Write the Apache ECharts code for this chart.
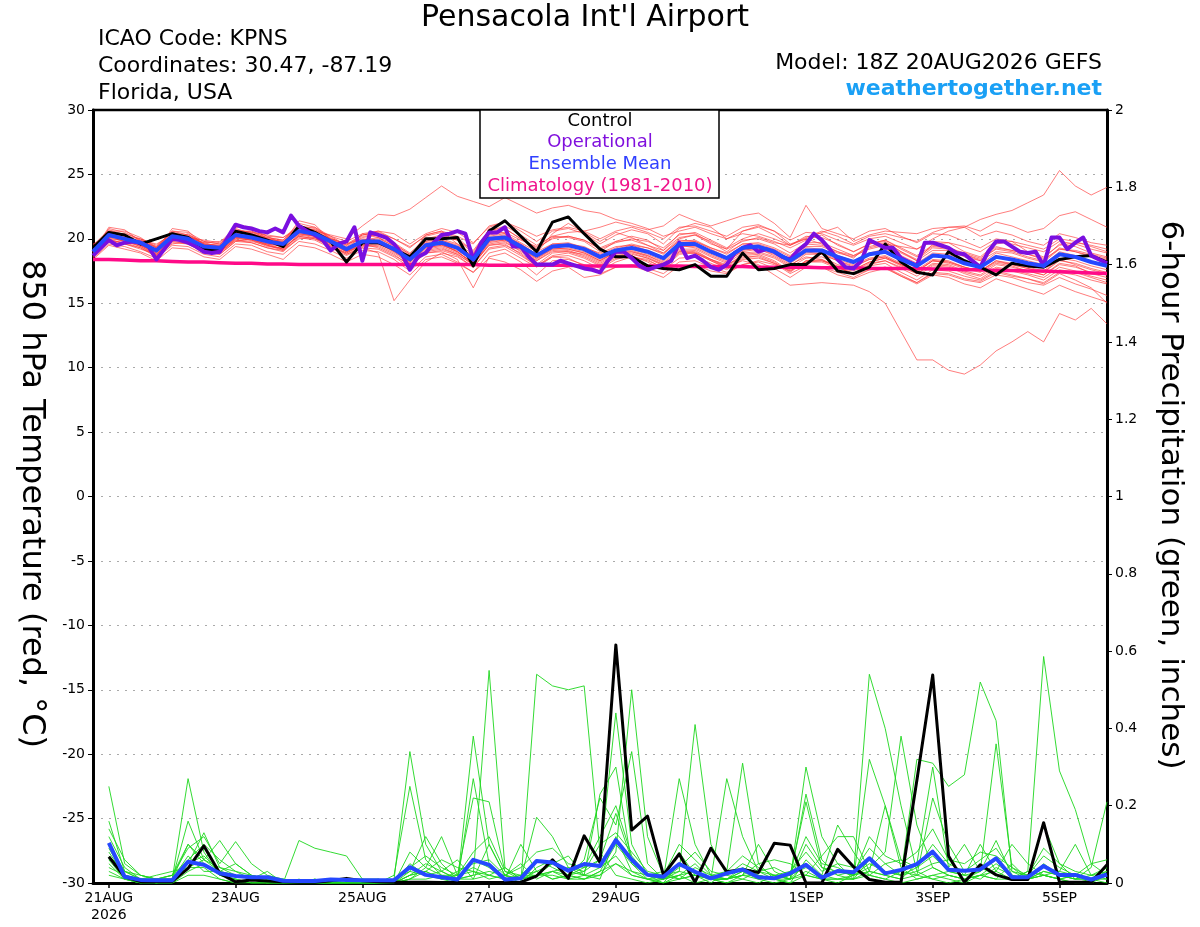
<!DOCTYPE html>
<html><head><meta charset="utf-8">
<script src="https://cdn.jsdelivr.net/npm/echarts@6/dist/echarts.min.js"></script>
<style>html,body{margin:0;padding:0;background:#fff}#c{width:1200px;height:927px}</style>
</head><body><div id="c"></div>
<script>
// hours since 20AUG2026 18Z
const STEP = 6;       // GEFS output step (h)
const OPER_STEP = 3;  // operational output step (h)
const tickHours = [6, 54, 102, 150, 198, 270, 318, 366];
const tickLabels = ['21AUG\n2026', '23AUG', '25AUG', '27AUG', '29AUG', '1SEP', '3SEP', '5SEP'];

const controlTemp = [19.3,20.5,20.3,19.6,20.0,20.4,20.1,19.2, 19.1,20.6,20.3,19.9,19.4,21.0,20.5,19.8, 18.2,19.7,19.7,19.2,18.6,20.0,20.0,20.1, 17.9,20.6,21.4,20.2,19.0,21.3,21.7,20.4, 19.2,18.6,18.6,17.9,17.7,17.6,18.0,17.1, 17.1,18.9,17.6,17.7,18.0,18.0,19.0,17.5, 17.3,17.8,19.6,18.2,17.4,17.2,19.0,18.3, 17.8,17.2,18.1,17.9,17.8,18.4,18.6,18.7, 18.2];
const meanTemp = [19.0,20.3,20.0,19.7,19.1,20.2,20.0,19.4, 19.3,20.3,20.1,19.8,19.6,20.6,20.4,19.8, 19.2,19.8,19.8,19.2,18.4,19.5,19.7,19.3, 18.4,20.0,20.1,19.4,18.7,19.4,19.5,19.2, 18.6,19.1,19.3,19.0,18.5,19.6,19.6,19.0, 18.5,19.3,19.4,19.0,18.3,19.1,19.1,18.6, 18.2,18.8,19.0,18.4,17.9,18.7,18.6,18.1, 17.8,18.6,18.4,18.1,17.9,18.8,18.6,18.2, 17.9];
const operTemp = [18.7,19.3,19.9,19.5,19.7,19.8,19.7,19.4,18.4,19.2, 20.0,19.9,19.7,19.4,19.0,18.9,19.0,20.1,21.1,20.9, 20.8,20.6,20.5,20.8,20.5,21.8,21.0,20.6,20.3,19.9, 19.1,19.6,19.8,20.9,18.3,20.5,20.3,20.1,19.6,18.8, 17.6,18.6,18.9,19.7,20.3,20.4,20.6,20.4,18.4,19.7, 20.5,20.5,20.9,19.4,19.4,18.6,18.0,18.0,18.0,18.3, 18.1,17.9,17.7,17.6,17.4,18.3,19.0,19.0,18.5,17.9, 17.6,17.8,18.0,18.3,19.7,18.5,18.7,18.3,17.8,17.6, 18.0,18.9,19.3,19.5,19.0,19.2,19.0,18.6,18.4,19.1, 19.6,20.4,19.9,19.2,18.4,17.8,17.7,18.3,19.9,19.6, 19.3,19.3,18.5,18.2,17.9,19.7,19.7,19.5,19.3,18.9, 18.8,18.3,17.8,19.0,19.8,19.8,19.4,19.0,18.9,19.0, 17.9,20.1,20.1,19.2,19.7,20.1,18.7,18.4,18.1];
const climTemp = [18.4,18.4,18.35,18.3,18.3,18.25,18.2,18.2, 18.15,18.1,18.1,18.05,18.05,18.0,18.0,18.0, 18.0,18.0,18.0,18.0,18.0,18.0,18.0,18.0, 18.0,17.95,17.95,17.95,17.95,17.95,17.95,17.9, 17.9,17.9,17.9,17.9,17.9,17.9,17.85,17.85, 17.85,17.85,17.8,17.8,17.8,17.8,17.75,17.75, 17.75,17.7,17.7,17.7,17.7,17.65,17.65,17.6, 17.6,17.55,17.55,17.5,17.5,17.45,17.4,17.35, 17.3];

const member01Temp = [18.9,20.8,20.5,19.9,19.3,20.6,20.3,19.8, 19.6,20.8,20.4,20.1,19.9,21.2,20.9,20.2, 19.5,20.3,20.6,20.0,19.4,20.2,20.5,20.1, 19.0,20.6,21.0,20.3,19.5,20.2,20.1,19.8, 19.0,19.8,19.9,19.5,19.1,20.1,20.3,19.8, 19.2,19.8,20.1,19.7,19.5,20.0,20.5,20.9, 19.8,20.3,20.6,20.5,20.4,20.8,20.9,20.9, 21.5,21.9,22.2,22.8,23.4,25.3,24.1,23.4, 24.0];
const member02Temp = [18.7,20.1,20.3,19.5,18.9,20.0,20.4,19.6, 19.1,20.5,20.6,20.0,19.8,20.9,20.7,20.0, 19.4,20.1,20.3,19.6,18.8,19.8,20.2,19.9, 18.9,20.4,20.8,20.0,19.3,20.0,20.2,19.9, 19.2,19.7,20.0,19.8,19.3,20.3,20.5,19.9, 19.3,20.0,20.4,20.0,19.5,20.1,20.6,20.2, 19.6,20.2,20.4,20.1,19.8,20.5,20.9,21.0, 20.6,21.3,21.0,20.5,20.8,21.8,22.1,21.5, 20.9];
const member03Temp = [19.2,20.0,19.6,19.2,18.8,19.9,19.7,19.0, 18.9,20.0,19.9,19.4,19.3,20.2,20.0,19.5, 18.8,19.4,19.5,18.9,18.1,19.1,19.3,18.8, 18.0,19.6,19.8,19.0,18.3,19.0,19.1,18.7, 18.1,18.7,18.9,18.5,18.0,19.1,19.0,18.4, 17.8,18.3,18.0,17.2,16.4,16.5,16.6,16.5, 16.4,15.9,15.0,12.8,10.6,10.6,9.8,9.5, 10.2,11.3,12.0,12.8,12.0,14.2,13.7,14.6, 13.4];
const member04Temp = [19.4,20.6,20.2,20.0,19.5,20.5,20.1,19.9, 19.7,20.9,20.8,20.2,20.1,21.0,20.6,20.3, 20.0,21.0,21.9,21.8,22.3,23.2,24.1,23.3, 22.9,22.5,23.2,22.6,22.0,22.4,22.6,22.2, 22.0,21.5,21.2,20.8,20.2,20.6,20.9,20.4, 20.0,20.4,20.2,19.8,19.3,19.9,20.3,19.5, 19.0,19.6,19.9,19.3,18.7,19.5,19.3,18.8, 18.4,19.2,19.0,18.6,18.3,19.3,19.0,18.7, 18.4];
const member05Temp = [18.6,19.8,19.6,19.3,18.7,19.8,19.6,19.0, 18.9,19.9,19.7,19.3,19.1,20.2,20.0,19.4, 18.8,19.3,18.9,15.2,16.8,18.2,18.9,18.6, 17.8,19.3,19.5,18.9,18.0,18.9,19.0,18.6, 18.0,18.6,18.8,18.5,17.9,19.0,19.1,18.4, 17.9,18.8,18.9,18.5,17.8,18.5,18.6,18.0, 17.6,18.2,18.5,17.9,17.3,18.1,18.0,17.5, 17.2,18.0,17.8,17.5,17.2,18.1,17.9,17.3, 17.0];
const member06Temp = [19.1,20.2,19.8,19.4,18.8,19.9,19.9,19.2, 19.0,20.1,20.0,19.5,19.2,20.4,20.2,19.6, 19.0,19.5,19.4,18.8,17.9,18.9,19.0,18.4, 16.2,18.6,18.9,18.2,17.2,18.3,18.4,18.0, 17.5,18.2,18.6,18.4,17.7,18.8,18.9,18.3, 17.8,18.7,18.8,18.3,17.5,18.3,18.4,17.8, 17.3,18.0,18.3,17.7,17.1,17.9,17.8,17.3, 16.9,17.7,17.5,17.2,16.8,17.6,17.4,17.0, 16.6];
const member07Temp = [19.3,20.5,20.4,20.0,19.4,20.6,20.5,19.8, 19.6,20.7,20.5,20.1,19.9,21.0,20.8,20.1, 19.5,20.2,20.3,19.7,18.9,20.0,20.3,19.9, 19.1,20.7,20.8,20.0,19.2,20.1,20.2,19.9, 19.3,19.8,20.2,19.9,19.1,20.4,20.4,19.7, 19.0,19.9,20.0,19.6,18.9,19.7,19.7,19.2, 18.7,19.4,19.7,19.0,18.4,19.3,19.2,18.8, 18.3,19.3,19.1,18.8,18.5,19.6,19.4,18.9, 18.6];
const member08Temp = [18.8,19.9,19.7,19.3,18.6,19.7,19.6,18.9, 18.8,19.8,19.7,19.3,19.0,20.1,19.9,19.3, 18.7,19.3,19.2,18.6,17.8,18.9,19.1,18.7, 17.8,19.2,19.4,18.7,17.9,18.7,18.9,18.5, 17.9,18.5,18.6,18.3,17.8,18.9,18.9,18.3, 17.7,18.5,18.7,18.2,17.4,18.3,18.3,17.8, 17.3,17.9,18.1,17.4,16.8,17.6,17.5,17.1, 16.8,17.5,17.2,16.9,16.5,17.3,16.8,16.2, 15.0];
const member09Temp = [19.0,20.9,20.7,19.8,19.0,20.8,20.6,19.5, 19.2,21.1,20.9,20.0,19.7,21.4,21.1,19.9, 19.1,20.4,20.1,19.4,18.6,20.3,20.6,19.6, 18.5,20.8,20.4,19.3,18.9,20.4,21.2,20.5, 19.8,20.5,20.1,19.5,18.9,20.0,20.3,19.6, 19.2,20.6,21.0,20.6,19.6,20.0,19.6,19.0, 18.5,19.6,19.8,19.0,18.3,19.6,19.7,19.0, 18.6,19.6,19.8,19.0,18.6,19.5,19.7,19.5, 19.2];
const member10Temp = [19.2,20.0,19.9,19.6,19.2,20.0,19.8,19.3, 19.4,20.2,19.9,19.6,19.5,20.4,20.2,19.7, 19.0,19.6,19.7,19.0,18.2,19.3,19.5,19.0, 18.1,19.7,19.9,19.2,18.4,19.2,19.3,19.0, 18.4,18.9,19.1,18.7,18.2,19.4,19.4,18.8, 18.3,19.0,19.2,18.8,18.1,18.9,18.9,18.4, 18.0,18.5,18.7,18.1,17.6,18.4,18.3,17.8, 17.5,18.3,18.1,17.8,17.5,18.5,18.3,17.9, 17.6];
const member11Temp = [19.0,20.4,20.2,19.8,19.3,20.3,20.2,19.6, 19.5,20.5,20.3,19.9,19.7,20.7,20.5,19.9, 19.3,19.9,20.0,19.5,18.7,19.8,20.0,19.6, 18.8,20.3,20.5,19.9,19.4,20.2,20.5,20.6, 20.9,21.3,21.0,20.7,21.0,21.9,21.4,21.0, 21.4,21.8,22.0,21.2,20.1,22.6,20.8,20.4, 20.0,20.6,20.8,20.2,19.7,20.4,20.3,19.8, 19.3,20.0,19.8,19.5,19.2,20.0,19.8,19.4, 19.0];
const member12Temp = [18.5,19.6,19.4,19.0,18.5,19.5,19.4,18.8, 18.6,19.6,19.5,19.0,18.8,19.8,19.6,19.1, 18.5,19.1,19.0,18.4,17.5,18.6,18.8,18.2, 17.4,18.5,18.2,17.6,16.7,17.5,17.8,17.0, 17.2,17.8,18.0,17.7,17.3,18.2,18.3,17.8, 17.4,18.0,18.2,17.7,17.0,17.8,17.8,17.4, 17.0,17.6,17.8,17.2,16.6,17.4,17.3,16.9, 16.7,17.4,17.1,16.9,16.6,17.4,17.2,16.8, 16.5];
const member13Temp = [19.5,20.7,20.3,19.7,19.2,20.4,20.2,19.7, 19.4,20.4,20.4,20.0,19.8,20.8,20.5,20.0, 19.6,20.0,19.9,19.3,18.5,19.6,19.9,19.5, 18.6,20.1,20.3,19.6,18.8,19.6,19.6,19.4, 18.8,19.3,19.6,19.3,18.8,19.9,19.8,19.3, 18.8,19.6,19.6,19.2,18.6,19.4,19.4,18.9, 18.6,19.3,19.6,19.4,19.2,20.0,20.6,20.9, 20.2,20.6,20.3,19.8,19.5,20.4,20.1,19.7, 19.5];
const member14Temp = [18.9,20.1,20.1,19.6,19.0,20.1,19.9,19.2, 19.1,20.0,20.2,19.7,19.4,20.5,20.3,19.7, 19.1,19.7,19.6,19.1,18.3,19.3,19.5,19.1, 18.3,19.9,20.0,19.3,18.5,19.3,19.2,18.9, 18.3,19.0,19.2,18.8,18.3,19.5,19.3,18.7, 18.2,19.1,19.3,18.9,18.2,19.0,18.8,18.3, 17.9,18.4,18.6,18.0,17.4,18.3,18.1,17.7, 17.4,18.1,17.9,17.5,17.2,18.0,17.8,17.4, 17.2];
const member15Temp = [19.0,20.3,20.0,19.5,18.9,20.0,20.0,19.4, 19.2,20.1,20.1,19.6,19.4,20.5,20.2,19.6, 19.2,19.8,19.8,19.2,18.4,19.5,19.6,19.2, 18.4,20.0,20.0,19.4,18.7,19.4,19.5,19.2, 18.6,19.1,19.3,19.0,18.5,19.6,19.6,19.0, 18.5,19.2,19.2,18.7,18.0,18.6,18.4,17.8, 17.2,17.6,17.8,17.1,16.5,17.2,17.0,16.5, 16.2,16.9,16.5,16.1,15.7,16.4,15.9,15.5, 15.1];
const member16Temp = [19.6,20.2,20.0,19.9,19.6,20.3,20.1,19.7, 19.8,20.4,20.5,20.3,20.1,20.8,20.7,20.2, 19.8,20.4,20.6,20.4,19.6,20.4,20.8,20.5, 19.7,20.9,21.3,20.8,20.2,20.7,20.9,20.6, 20.0,20.6,20.9,20.5,20.0,20.9,21.0,20.6, 20.2,20.9,21.1,20.6,19.9,20.5,20.4,19.9, 19.5,20.0,20.2,19.7,19.2,19.8,19.7,19.4, 19.0,19.8,19.6,19.3,19.0,19.8,19.6,19.2, 18.9];
const member17Temp = [18.4,19.5,19.2,18.9,18.3,19.3,19.2,18.6, 18.4,19.4,19.2,18.8,18.4,19.5,19.3,18.8, 18.2,18.8,18.6,18.0,17.2,18.4,18.6,18.1, 17.4,18.9,19.2,18.5,17.8,18.6,18.7,18.3, 17.7,18.4,18.7,18.2,17.6,18.5,18.6,18.1, 17.6,18.4,18.5,18.1,17.6,18.2,18.2,17.7, 17.5,18.1,18.3,17.8,17.3,18.0,17.9,17.4, 17.1,17.8,17.6,17.3,17.0,17.8,17.5,17.1, 16.8];
const member18Temp = [19.1,20.6,20.6,20.1,19.3,20.5,20.3,19.6, 19.5,20.6,20.6,20.2,19.6,20.9,20.9,20.0, 19.3,19.9,20.1,19.6,18.8,19.7,19.9,19.4, 18.7,20.2,20.4,19.7,19.0,19.6,19.7,19.3, 18.9,19.4,19.5,19.3,18.9,19.8,19.9,19.3, 18.9,19.6,19.7,19.3,18.7,19.6,19.5,19.0, 18.7,19.2,19.5,18.9,18.3,19.1,19.1,18.6, 18.3,19.0,18.9,18.5,18.2,19.2,19.0,18.6, 18.3];
const member19Temp = [18.8,19.7,19.9,19.4,18.7,19.6,19.8,19.1, 18.8,19.8,20.0,19.5,19.1,20.0,20.1,19.5, 18.9,19.6,19.3,18.7,18.0,19.0,19.2,18.8, 18.0,19.5,19.7,19.1,18.3,19.1,19.0,18.8, 18.2,18.8,19.0,18.7,18.1,19.2,19.2,18.6, 18.1,18.9,19.0,18.6,17.9,18.8,18.8,18.3, 17.8,18.4,18.6,18.0,17.5,18.3,18.2,17.8, 17.5,18.3,18.0,17.7,17.4,18.4,18.0,17.6, 17.3];
const member20Temp = [19.0,20.1,19.8,19.5,19.0,20.0,19.7,19.1, 19.0,19.9,19.8,19.5,19.2,20.3,20.1,19.4, 18.9,19.5,19.6,19.0,18.2,19.2,19.4,18.9, 18.2,19.8,19.9,19.2,18.5,19.2,19.2,18.9, 18.3,18.9,19.0,18.6,18.0,19.0,18.9,18.4, 18.0,18.6,18.6,18.1,17.3,17.9,17.8,17.2, 16.9,17.4,17.7,17.1,16.6,17.3,17.2,16.8, 16.6,17.2,17.0,16.6,16.4,17.0,16.5,16.1, 15.6];
const member21Temp = [19.2,20.4,20.1,19.8,19.4,20.3,20.2,19.6, 19.4,20.3,20.2,19.9,19.7,20.8,20.6,20.0, 19.6,20.3,20.5,20.0,19.3,20.3,20.6,20.2, 19.6,21.0,21.3,20.6,19.8,20.6,20.8,20.4, 19.6,20.3,20.7,20.4,19.6,20.8,21.2,20.9, 20.0,20.6,20.9,20.3,19.5,20.2,20.1,19.6, 19.0,19.6,19.9,19.2,18.6,19.4,19.3,18.9, 18.5,19.4,19.1,18.8,18.4,19.2,19.1,18.8, 18.5];
const member22Temp = [18.6,20.2,20.0,19.5,18.8,19.8,20.0,19.3, 19.0,20.1,19.9,19.6,19.2,20.3,20.3,19.7, 19.0,19.7,19.8,19.3,18.6,19.6,19.6,19.0, 18.0,19.8,20.2,19.6,18.8,19.5,19.6,19.1, 18.5,19.2,19.5,19.1,18.6,19.7,19.8,19.2, 18.6,19.4,19.5,19.1,18.4,19.3,19.2,18.7, 18.3,18.9,19.2,18.7,18.1,18.9,18.8,18.3, 18.0,18.9,18.6,18.3,18.0,19.0,18.7,18.2, 17.8];
const member23Temp = [19.4,20.3,20.1,19.7,19.0,20.2,19.9,19.3, 19.2,20.2,20.0,19.7,19.5,20.6,20.3,19.7, 19.1,19.8,19.7,19.1,18.3,19.4,19.6,19.0, 18.1,19.5,19.6,18.8,17.9,18.6,18.5,17.9, 17.3,17.8,17.9,17.5,17.0,17.9,18.0,17.5, 17.3,18.0,18.3,18.0,17.5,18.2,18.3,17.9, 17.6,18.2,18.5,18.0,17.5,18.3,18.2,17.8, 17.5,18.2,18.0,17.7,17.4,18.3,18.1,17.7, 17.4];

const controlPrecip = [null,0.068,0.016,0.004,0.004,0.004,0.038,0.096, 0.025,0.003,0.008,0.005,0.003,0.002,0.002,0.006, 0.012,0.006,0.003,0.002,0.002,0.002,0.001,0.001, 0.001,0.001,0.001,0.002,0.018,0.060,0.012,0.122, 0.053,0.616,0.137,0.173,0.021,0.075,0.002,0.090, 0.029,0.035,0.027,0.103,0.098,0.000,0.000,0.087, 0.042,0.009,0.002,0.002,0.266,0.538,0.070,0.002, 0.047,0.021,0.009,0.009,0.156,0.002,0.002,0.002, 0.047];
const meanPrecip = [null,0.104,0.016,0.008,0.007,0.007,0.055,0.047, 0.025,0.018,0.015,0.015,0.006,0.005,0.005,0.009, 0.008,0.007,0.007,0.007,0.041,0.021,0.015,0.009, 0.060,0.047,0.009,0.012,0.057,0.053,0.032,0.049, 0.044,0.111,0.060,0.021,0.016,0.049,0.029,0.012, 0.025,0.035,0.015,0.012,0.025,0.047,0.014,0.031, 0.028,0.064,0.025,0.034,0.049,0.081,0.034,0.032, 0.035,0.064,0.015,0.015,0.044,0.021,0.021,0.009, 0.022];

const member01Precip = [null,.25,.05,.02,.01,.02,.10,.05, .02,.01,0,0,.01,0,0,0, 0,.01,0,.01,.34,.10,.03,.01, .02,.55,.04,.01,.02,.05,.02,.01, .03,.10,.05,.01,0,.02,0,.01, 0,.02,.01,0,.01,.05,.01,0, .02,.54,.40,.20,.03,.01,0,.01, .02,.01,.05,.01,.02,.01,0,0, .02];
const member02Precip = [null,.16,.03,.01,.01,.01,.27,.08, .02,.01,0,0,0,0,.01,0, 0,0,0,.02,.25,.06,.02,0, .38,.10,.02,0,.54,.51,.50,.51, .08,.02,.01,0,.01,.02,.05,.01, 0,.01,0,.02,.01,.30,.12,.05, .01,.02,.01,0,.01,.02,.01,0, .02,.01,.01,.03,.586,.29,.19,.05, .02];
const member03Precip = [null,.12,.04,.01,0,.01,.16,.06, .03,.02,.01,.01,0,.11,.09,.08, .07,.01,0,0,.02,.03,.01,0, .27,.05,.01,.02,.03,.01,.02,.04, .06,.44,.10,.02,0,.01,.02,0, .03,.31,.05,.01,0,.02,.01,.03, .02,.05,.03,.02,.32,.31,.25,.28, .52,.42,.03,.01,.02,.01,0,.01, 0];
const member04Precip = [null,.14,.06,.02,.01,.01,.05,.13, .04,.02,.01,0,0,0,0,0, 0,.01,.01,0,.08,.04,.12,.02, .22,.21,.03,.01,.02,.03,.01,.02, .02,.08,.50,.12,.02,.03,.41,.10, .02,.01,.03,.02,.01,.23,.06,.02, .01,.32,.20,.06,.02,.01,.02,.01, .03,.36,.04,.01,.03,.02,.01,.04, .21];
const member05Precip = [null,.10,.03,.01,.02,.03,.04,.06, .11,.05,.02,.01,0,.01,0,0, .01,0,0,.01,.03,.12,.05,.01, .02,.03,.02,.01,.17,.12,.04,.02, .23,.30,.05,.02,.01,.27,.10,.02, .01,.03,.02,.01,.02,.21,.04,.03, .02,.04,.08,.38,.15,.04,.02,.01, .02,.05,.02,.01,.15,.05,.01,.02, .03];
const member06Precip = [null,.08,.02,.01,.01,.02,.09,.12, .05,.107,.05,.02,.01,0,0,.01, 0,0,.01,0,.02,.03,.01,.02, .04,.02,.01,.10,.03,.01,.02,.06, .22,.15,.34,.05,.01,.02,.03,.01, .27,.12,.03,.01,.02,.04,.02,.15, .08,.02,.01,.03,.02,.22,.10,.03, .04,.02,.01,.03,.02,.01,.02,.01, .02];
const member07Precip = [null,.06,.01,0,.01,.02,.06,.10, .06,.03,.01,0,.01,0,0,0, .01,0,0,0,.05,.02,.03,.06, .01,.10,.02,.01,.03,.05,.07,.02, .01,.12,.03,.01,.02,.01,.02,.01, .01,.02,.10,.03,.01,.02,.07,.12, .12,.03,.02,.01,.05,.30,.04,.10, .03,.11,.02,.01,.02,.03,.10,.02, .01];
const member08Precip = [null,.05,.01,.01,0,.01,.04,.04, .01,0,.01,.03,0,0,0,0, 0,0,0,0,.01,.04,.02,.01, .01,.02,.04,.01,.02,.02,.01,.01, .02,.05,.02,.01,.01,.08,.02,.01, .01,.02,.05,.06,.05,.02,.01,.01, .02,.03,.20,.04,.01,.02,.03,.02, .10,.03,.10,.05,.02,.01,.02,.05, .06];
const member09Precip = [null,.03,.01,0,0,0,.03,.05, .02,.01,0,0,0,0,0,0, 0,0,0,0,.02,.05,.03,.01, .06,.04,.01,0,.04,.06,.03,.02, .04,.07,.02,.01,0,.05,.03,.01, .01,.04,.02,.01,0,.06,.02,.01, .01,.06,.03,.02,.04,.07,.03,.02, .01,.04,.02,.01,.05,.02,.01,.01, .02];
const member10Precip = [null,.04,.02,.01,0,.01,.07,.03, .03,.05,.02,.01,0,0,0,0, 0,0,0,0,.01,.03,.06,.04, .03,.01,.02,.05,.01,.03,.04,.03, .06,.18,.06,.02,.03,.01,.04,.02, .01,.03,.01,.02,.03,.08,.03,.05, .04,.02,.05,.02,.03,.05,.06,.02, .03,.06,.01,.02,.04,.03,.02,.01, .04];
const member11Precip = [null,.09,.02,.01,0,0,.05,.07, .03,.02,.01,0,0,0,0,0, .01,0,0,0,.04,.07,.04,.02, .08,.12,.03,.02,.06,.04,.02,.03, .10,.13,.08,.03,.02,.10,.06,.02, .03,.07,.04,.02,.01,.10,.04,.02, .03,.09,.05,.06,.04,.10,.05,.03, .06,.09,.03,.02,.07,.04,.02,.01, .03];
const member12Precip = [null,.07,.03,.02,.01,.01,.10,.06, .04,.03,.02,.01,0,0,.01,0, 0,0,0,0,.03,.02,.01,.03, .05,.06,.02,.04,.08,.09,.05,.04, .12,.20,.07,.02,.01,.04,.08,.03, .02,.05,.03,.04,.02,.12,.05,.04, .02,.12,.07,.05,.08,.14,.06,.05, .08,.07,.04,.02,.09,.05,.03,.02, .04];
const member13Precip = [null,.02,.01,0,0,0,.02,.02, .01,0,0,0,0,0,0,0, 0,0,0,0,.01,.01,.02,.02, .03,.02,.01,.02,.02,.03,.02,.01, .03,.05,.03,.02,.01,.03,.02,.01, .01,.02,.02,.01,.01,.03,.01,.01, .01,.03,.02,.01,.02,.04,.02,.01, .02,.03,.01,.01,.03,.02,.01,.01, .01];

const tempMembers = [member01Temp, member02Temp, member03Temp, member04Temp, member05Temp, member06Temp, member07Temp, member08Temp, member09Temp, member10Temp, member11Temp, member12Temp, member13Temp, member14Temp, member15Temp, member16Temp, member17Temp, member18Temp, member19Temp, member20Temp, member21Temp, member22Temp, member23Temp];
const precipMembers = [member01Precip, member02Precip, member03Precip, member04Precip, member05Precip, member06Precip, member07Precip, member08Precip, member09Precip, member10Precip, member11Precip, member12Precip, member13Precip];

function pairs(arr, step) {
  return arr.map((v, i) => [i * step, v]).filter(p => p[1] !== null);
}
const FONT = "'DejaVu Sans', Verdana, sans-serif";
function line(data, yAxisIndex, color, width) {
  return { type: 'line', data: data, yAxisIndex: yAxisIndex, symbol: 'none', silent: true,
    lineStyle: { color: color, width: width, join: 'round' }, z: 2 };
}
const series = [];
tempMembers.forEach(m => series.push(line(pairs(m, STEP), 0, 'rgba(255,55,55,0.65)', 1)));
precipMembers.forEach(m => series.push(line(pairs(m, STEP), 1, 'rgba(30,215,30,0.9)', 1)));
series.push(line(pairs(climTemp, STEP), 0, '#ff0a88', 3.5));
series.push(line(pairs(controlTemp, STEP), 0, '#000000', 3));
series.push(line(pairs(operTemp, OPER_STEP), 0, '#7a0fe0', 4));
series.push(line(pairs(meanTemp, STEP), 0, '#2548ff', 4));
series.push(line(pairs(controlPrecip, STEP), 1, '#000000', 3));
series.push(line(pairs(meanPrecip, STEP), 1, '#2548ff', 4));

function txt(x, y, text, size, color, align, extra) {
  return Object.assign({ type: 'text', z: 101, x: x, y: y,
    style: { text: text, fontSize: size, fontFamily: FONT, fill: color, align: align, verticalAlign: 'middle' } }, extra || {});
}

const chart = echarts.init(document.getElementById('c'), null, { renderer: 'canvas' });
chart.setOption({
  animation: false,
  backgroundColor: '#ffffff',
  textStyle: { fontFamily: FONT },
  grid: { left: 93, right: 93, top: 110, bottom: 44, show: true, borderColor: '#000', borderWidth: 2, backgroundColor: 'transparent' },
  xAxis: {
    type: 'value', min: 0, max: 384,
    axisLine: { onZero: false, lineStyle: { color: '#000', width: 3 } },
    axisTick: { show: true, customValues: tickHours, length: 5, lineStyle: { color: '#000', width: 1.5 } },
    axisLabel: { customValues: tickHours, fontSize: 14, color: '#000', fontFamily: FONT, margin: 7, lineHeight: 17,
      formatter: v => { const k = tickHours.indexOf(Math.round(v)); return k >= 0 ? tickLabels[k] : ''; } },
    splitLine: { show: false }
  },
  yAxis: [
    { type: 'value', min: -30, max: 30, interval: 5, position: 'left',
      axisLine: { show: true, lineStyle: { color: '#000', width: 3 } },
      axisTick: { show: true, length: 5, lineStyle: { color: '#000', width: 1 } },
      axisLabel: { fontSize: 14, color: '#000', fontFamily: FONT, margin: 8 },
      splitLine: { show: true, lineStyle: { color: '#aaaaaa', type: [2, 6], width: 1.2 } } },
    { type: 'value', min: 0, max: 2, interval: 0.2, position: 'right',
      axisLine: { show: true, lineStyle: { color: '#000', width: 3 } },
      axisTick: { show: true, length: 5, lineStyle: { color: '#000', width: 1 } },
      axisLabel: { fontSize: 14, color: '#000', fontFamily: FONT, margin: 8 },
      splitLine: { show: false } }
  ],
  graphic: [
    { type: 'line', z: 99, shape: { x1: 92, y1: 110, x2: 1108, y2: 110 }, style: { stroke: '#000', lineWidth: 2.5 } },
    txt(585, 18, "Pensacola Int'l Airport", 30, '#000', 'center'),
    txt(98, 39, 'ICAO Code: KPNS', 22, '#000', 'left'),
    txt(98, 66, 'Coordinates: 30.47, -87.19', 22, '#000', 'left'),
    txt(98, 93, 'Florida, USA', 22, '#000', 'left'),
    txt(1102, 63, 'Model: 18Z 20AUG2026 GEFS', 22, '#000', 'right'),
    { type: 'text', z: 101, x: 1102, y: 89, style: { text: 'weathertogether.net', fontSize: 22, fontWeight: 'bold', fontFamily: FONT, fill: '#1aa0f5', align: 'right', verticalAlign: 'middle' } },
    { type: 'rect', z: 100, shape: { x: 480, y: 110, width: 239, height: 88 }, style: { fill: '#fff', stroke: '#000', lineWidth: 1.5 } },
    txt(600, 121, 'Control', 18, '#000', 'center'),
    txt(600, 142, 'Operational', 18, '#8010dd', 'center'),
    txt(600, 164, 'Ensemble Mean', 18, '#3040ff', 'center'),
    txt(600, 186, 'Climatology (1981-2010)', 18, '#f0148c', 'center'),
    txt(31, 504, '850 hPa Temperature (red, °C)', 32, '#000', 'center', { rotation: -Math.PI / 2 }),
    txt(1170, 495, '6-hour Precipitation (green, inches)', 31, '#000', 'center', { rotation: -Math.PI / 2 })
  ],
  series: series
});
</script></body></html>
